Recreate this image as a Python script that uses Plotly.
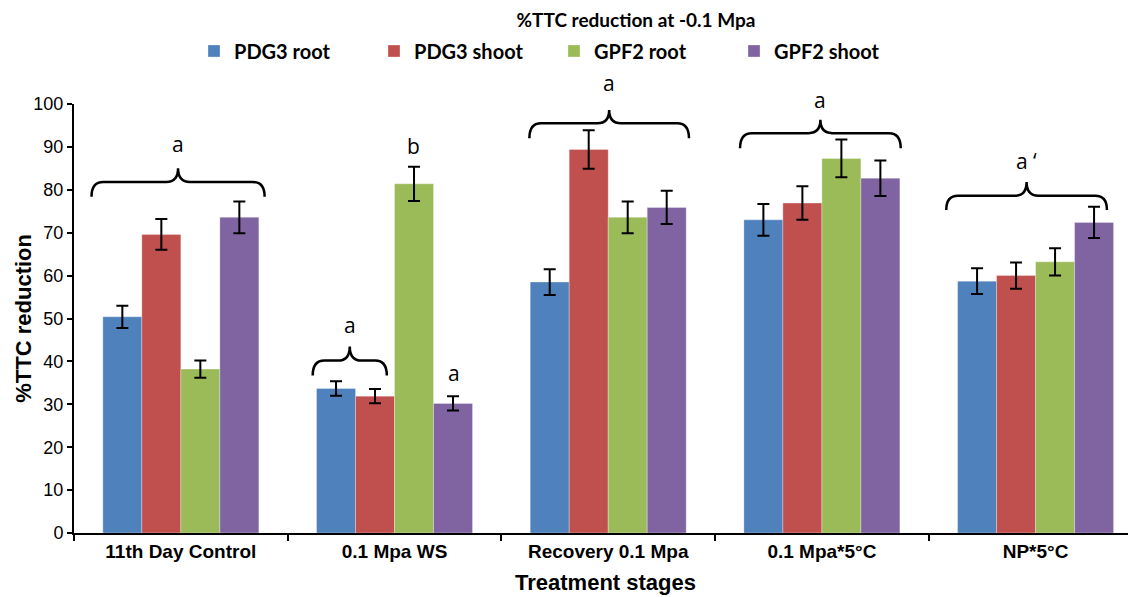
import plotly.graph_objects as go

categories = ["11th Day Control", "0.1 Mpa WS", "Recovery 0.1 Mpa", "0.1 Mpa*5°C", "NP*5°C"]
series_names = ["PDG3 root", "PDG3 shoot", "GPF2 root", "GPF2 shoot"]
pdg3_root = [50.4, 33.7, 58.5, 73.0, 58.7]
pdg3_shoot = [69.6, 31.9, 89.4, 76.9, 60.0]
gpf2_root = [38.2, 81.4, 73.6, 87.3, 63.2]
gpf2_shoot = [73.6, 30.2, 75.9, 82.7, 72.4]
pdg3_root_err = [2.6, 1.7, 3.0, 3.7, 3.0]
pdg3_shoot_err = [3.6, 1.65, 4.5, 3.9, 3.05]
gpf2_root_err = [2.0, 4.0, 3.7, 4.4, 3.2]
gpf2_shoot_err = [3.7, 1.65, 3.85, 4.15, 3.65]
colors = ["#4F81BD", "#C0504D", "#9BBB59", "#8064A2"]

# significance braces: category index, left/right offsets, end / bar / tip heights, label, label height
brace_cat = [0, 1, 2, 3, 4]
brace_left = [-0.418, -0.383, -0.369, -0.383, -0.418]
brace_right = [0.392, -0.036, 0.378, 0.369, 0.334]
brace_end_y = [78.4, 36.7, 92.0, 89.7, 75.3]
brace_bar_y = [81.8, 40.2, 95.5, 93.2, 78.6]
brace_tip_y = [85.0, 43.5, 98.6, 96.3, 81.8]
brace_label = ["a", "a", "a", "a", "a \u2018"]
brace_label_y = [90.6, 48.5, 104.8, 100.9, 86.6]
# single-bar letters
extra_label = ["b", "a"]
extra_cat = [1, 1]
extra_off = [0.089, 0.276]
extra_y = [90.3, 37.4]

Y_MAX = 100

values = [pdg3_root, pdg3_shoot, gpf2_root, gpf2_shoot]
errors = [pdg3_root_err, pdg3_shoot_err, gpf2_root_err, gpf2_shoot_err]

fig = go.Figure()
for name, v, e, c in zip(series_names, values, errors, colors):
    fig.add_trace(go.Bar(
        x=categories, y=v, name=f"<b>{name}</b>",
        marker=dict(color=c, line=dict(color="rgba(255,255,255,0.6)", width=0.5)),
        error_y=dict(type="data", array=e, visible=True, color="black", thickness=2, width=6),
    ))

def brace_path(x0, x1, yb, yl, yt, d=0.055):
    xm = (x0 + x1) / 2
    return (f"M {x0},{yb} Q {x0},{yl} {x0+d},{yl} L {xm-d},{yl} "
            f"Q {xm},{yl} {xm},{yt} Q {xm},{yl} {xm+d},{yl} L {x1-d},{yl} "
            f"Q {x1},{yl} {x1},{yb}")

letter_font = dict(family="Open Sans", size=21, color="black")
shapes = []
annotations = []
for ci, l, r, yb, yl, yt, lab, ly in zip(brace_cat, brace_left, brace_right, brace_end_y,
                                         brace_bar_y, brace_tip_y, brace_label, brace_label_y):
    shapes.append(dict(type="path", xref="x", yref="y",
                       path=brace_path(ci + l, ci + r, yb, yl, yt),
                       line=dict(color="black", width=2.5)))
    annotations.append(dict(x=ci + (l + r) / 2, y=ly / Y_MAX, xref="x", yref="paper", text=lab,
                            xanchor="center", yanchor="middle", showarrow=False, font=letter_font))
for lab, ci, off, y in zip(extra_label, extra_cat, extra_off, extra_y):
    annotations.append(dict(x=ci + off, y=y / Y_MAX, xref="x", yref="paper", text=lab,
                            xanchor="center", yanchor="middle", showarrow=False, font=letter_font))

# axis titles as annotations
annotations.append(dict(text="<b>Treatment stages</b>", x=0.5, xref="paper", y=-0.149, yref="paper",
                        xanchor="center", yanchor="bottom", showarrow=False,
                        font=dict(family="Liberation Sans", size=22, color="black")))
annotations.append(dict(text="<b>%TTC reduction</b>", x=-0.0615, xref="paper", y=0.5, yref="paper",
                        xanchor="left", yanchor="middle", textangle=-90, showarrow=False,
                        font=dict(family="Liberation Sans", size=22, color="black")))

# page body has an 8px margin, so the figure is 8px smaller and shifted
fig.update_layout(
    width=1128, height=589,
    margin=dict(l=66, r=0, t=96, b=64, autoexpand=False),
    paper_bgcolor="white", plot_bgcolor="white",
    barmode="group", bargap=0.27, bargroupgap=0,
    title=dict(text="<b>%TTC reduction at -0.1 Mpa</b>", x=0.5567, xanchor="center",
               y=0.99, yanchor="top", pad=dict(t=0, b=0),
               font=dict(family="Lato", size=19, color="black")),
    legend=dict(orientation="h", x=0.113, xanchor="left", y=1.1236, yanchor="middle",
                font=dict(family="Lato", size=20, color="black"),
                entrywidth=135, entrywidthmode="pixels", traceorder="normal"),
    shapes=shapes, annotations=annotations,
    showlegend=True,
)
fig.update_xaxes(
    type="category", range=[-0.5, 4.47], tickson="boundaries", ticks="outside", ticklen=6,
    tickwidth=2, tickcolor="black", showline=True, linecolor="black", linewidth=2,
    showgrid=False, zeroline=False, automargin=False,
    tickfont=dict(family="Liberation Sans", size=19, color="black"),
    ticktext=[f"<b>{c}</b>" for c in categories], tickvals=categories,
)
fig.update_yaxes(
    range=[0, Y_MAX], dtick=10, ticks="outside", ticklen=5, tickwidth=2, tickcolor="black",
    showline=True, linecolor="black", linewidth=2, showgrid=False, zeroline=False, automargin=False,
    tickfont=dict(family="Liberation Sans", size=18, color="black"),
)
fig.write_html("out.html")
